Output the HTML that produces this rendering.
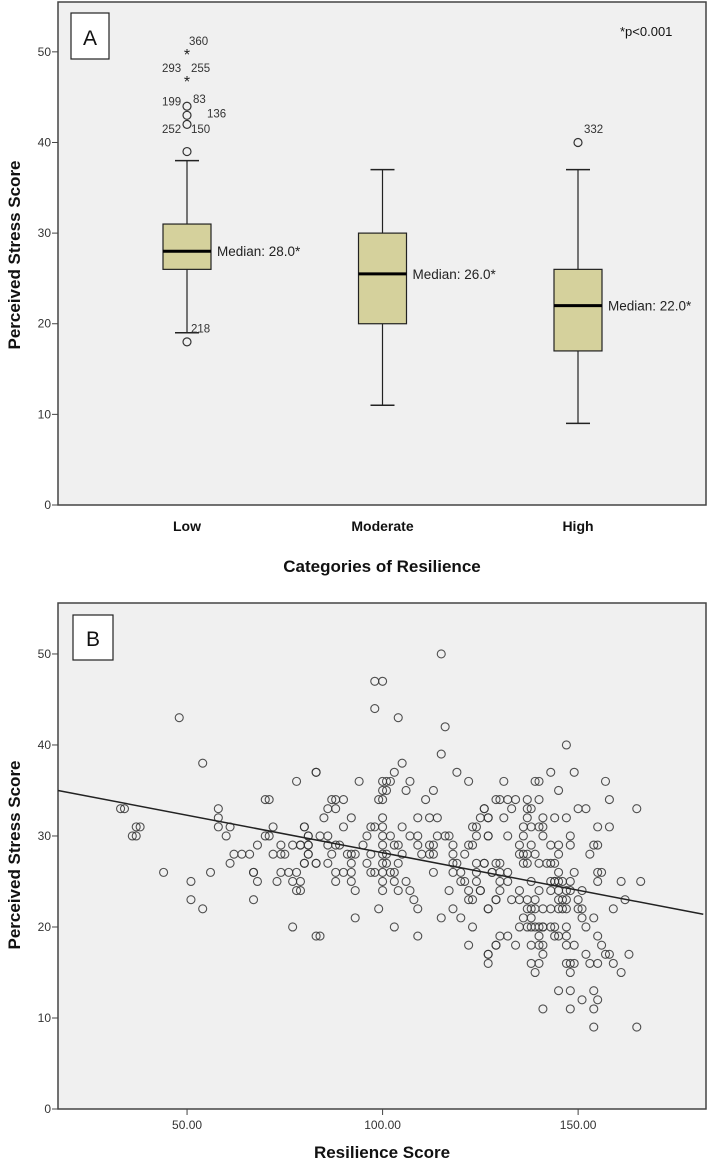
<!DOCTYPE html>
<html><head><meta charset="utf-8">
<style>
html,body{margin:0;padding:0;background:#fff;}
svg{display:block;font-family:"Liberation Sans",Arial,sans-serif;}
.tick{font-size:12px;fill:#333;}
.title{font-size:17px;font-weight:bold;fill:#111;}
</style></head>
<body>
<svg id="chart" width="708" height="1164" viewBox="0 0 708 1164" xmlns="http://www.w3.org/2000/svg">
<g id="panelA"></g>
<g id="panelB"></g>
</svg>
<script>
// ---- Panel A data ----
const categories = ["Low","Moderate","High"];
const whiskerLow = [19, 11, 9];
const q1 = [26, 20, 17];
const medians = [28, 25.5, 22];
const q3 = [31, 30, 26];
const whiskerHigh = [38, 37, 37];
const medianLabels = ["Median: 28.0*","Median: 26.0*","Median: 22.0*"];
const outlierCat = [0,0,0,0,0,0,0,2];
const outlierVal = [18,39,42,43,44,47,50,40];
const outlierType = ["o","o","o","o","o","*","*","o"];
const outlierLabelText = ["218","252","150","199","136","83","293","255","360","332"];
const outlierLabelVal = [19.5,41.5,41.5,44.5,43.2,44.8,48.2,48.2,51.2,41.5];
const outlierLabelCat = [0,0,0,0,0,0,0,0,0,2];
const outlierLabelDx = [4,-25,4,-25,20,6,-25,4,2,6];
const yTicksA = [0,10,20,30,40,50];

// ---- Panel B data ----
const resilience = [48,54,33,37,36,44,51,51,54,56,58,58,58,61,60,61,62,64,66,67,67,68,67,70,71,70,71,72,68,74,72,74,75,77,79,81,78,83,80,81,81,80,83,74,76,78,73,77,79,78,77,83,34,37,38,
98,100,98,104,116,115,83,105,103,119,122,94,100,101,102,107,106,100,101,113,99,100,111,87,88,90,86,88,126,129,85,92,100,109,112,114,125,127,80,90,97,98,100,105,123,124,81,84,86,96,100,102,107,109,114,116,117,124,127,79,81,86,88,89,95,100,103,104,109,112,113,118,122,123,81,87,91,92,93,97,100,101,105,110,112,113,118,121,80,83,86,92,96,100,101,104,118,119,124,126,129,88,90,92,97,98,100,102,103,113,118,120,124,128,88,92,100,103,106,120,121,124,79,93,100,104,107,117,122,125,108,122,123,129,99,109,118,127,93,115,120,103,123,84,109,122,129,127,
143,149,131,139,140,157,145,130,132,134,137,140,158,126,133,137,138,150,152,165,127,131,137,141,144,147,136,138,140,141,155,158,127,132,136,141,148,135,138,143,145,148,154,155,135,136,137,139,145,153,126,130,136,137,140,142,143,144,128,130,132,145,149,155,156,130,132,138,143,144,144,145,146,148,155,161,166,125,130,135,140,143,145,147,148,151,129,133,135,137,139,145,146,147,150,162,127,137,138,139,141,143,145,146,147,150,151,159,136,138,151,154,135,137,138,139,140,141,141,143,144,147,152,130,132,140,144,145,147,155,129,134,138,140,141,147,149,156,127,141,152,157,158,163,127,138,140,147,148,149,153,155,159,139,148,161,145,148,154,151,155,141,148,154,154,165,115,147];
const stress = [43,38,33,31,30,26,25,23,22,26,33,32,31,31,30,27,28,28,28,26,26,25,23,34,34,30,30,31,29,29,28,28,28,29,29,29,36,37,31,30,28,27,27,26,26,26,25,25,25,24,20,19,33,30,31,
47,47,44,43,42,39,37,38,37,37,36,36,36,36,36,36,35,35,35,35,34,34,34,34,34,34,33,33,33,34,32,32,32,32,32,32,32,32,31,31,31,31,31,31,31,31,30,30,30,30,30,30,30,30,30,30,30,30,30,29,29,29,29,29,29,29,29,29,29,29,29,29,29,29,28,28,28,28,28,28,28,28,28,28,28,28,28,28,27,27,27,27,27,27,27,27,27,27,27,27,27,26,26,26,26,26,26,26,26,26,26,26,26,26,25,25,25,25,25,25,25,25,24,24,24,24,24,24,24,24,23,23,23,23,22,22,22,22,21,21,21,20,20,19,19,18,18,17,
37,37,36,36,36,36,35,34,34,34,34,34,34,33,33,33,33,33,33,33,32,32,32,32,32,32,31,31,31,31,31,31,30,30,30,30,30,29,29,29,29,29,29,29,28,28,28,28,28,28,27,27,27,27,27,27,27,27,26,26,26,26,26,26,26,25,25,25,25,25,25,25,25,25,25,25,25,24,24,24,24,24,24,24,24,24,23,23,23,23,23,23,23,23,23,23,22,22,22,22,22,22,22,22,22,22,22,22,21,21,21,21,20,20,20,20,20,20,20,20,20,20,20,19,19,19,19,19,19,19,18,18,18,18,18,18,18,18,17,17,17,17,17,17,16,16,16,16,16,16,16,16,16,15,15,15,13,13,13,12,12,11,11,11,9,9,50,40];
const regX = [17, 182];
const regY = [35.0, 21.4];
const xTicksB = [50,100,150];
const xTickLabelsB = ["50.00","100.00","150.00"];
const yTicksB = [0,10,20,30,40,50];

const NS="http://www.w3.org/2000/svg";
function mk(tag, attrs, parent){const e=document.createElementNS(NS,tag);for(const k in attrs)e.setAttribute(k,attrs[k]);parent.appendChild(e);return e;}

// ===== Panel A =====
const A={left:58,right:706,top:2,bottom:505,ymax:55.5};
const gA=document.getElementById('panelA');
const yA=v=>A.bottom-(v/A.ymax)*(A.bottom-A.top);
const xA=i=>187+i*195.5;
let r=mk('rect',{x:A.left,y:A.top,width:A.right-A.left,height:A.bottom-A.top,fill:'#f0f0f0',stroke:'#444','stroke-width':1.5},gA);


yTicksA.forEach(t=>{
  let l=mk('line',{x1:A.left-6,x2:A.left,y1:yA(t),y2:yA(t),stroke:'#444'},gA);
  
  
  let tx=mk('text',{x:A.left-7,y:yA(t)+4,'text-anchor':'end',class:'tick'},gA);tx.textContent=t;
  
  
});
categories.forEach((c,i)=>{
  const cx=xA(i);
  let g=mk('g',{},gA);
  
  
  mk('line',{x1:cx,x2:cx,y1:yA(whiskerHigh[i]),y2:yA(q3[i]),stroke:'#222','stroke-width':1.2},g);
  mk('line',{x1:cx,x2:cx,y1:yA(q1[i]),y2:yA(whiskerLow[i]),stroke:'#222','stroke-width':1.2},g);
  mk('line',{x1:cx-12,x2:cx+12,y1:yA(whiskerHigh[i]),y2:yA(whiskerHigh[i]),stroke:'#222','stroke-width':1.5},g);
  mk('line',{x1:cx-12,x2:cx+12,y1:yA(whiskerLow[i]),y2:yA(whiskerLow[i]),stroke:'#222','stroke-width':1.5},g);
  mk('rect',{x:cx-24,y:yA(q3[i]),width:48,height:yA(q1[i])-yA(q3[i]),fill:'#d5d19c',stroke:'#222','stroke-width':1.2},g);
  mk('line',{x1:cx-24,x2:cx+24,y1:yA(medians[i]),y2:yA(medians[i]),stroke:'#000','stroke-width':3},g);
  let ml=mk('text',{x:cx+30,y:yA(medians[i])+5,'font-size':'13.5px',fill:'#222'},gA);ml.textContent=medianLabels[i];
  
  
  let cl=mk('text',{x:cx,y:531,'text-anchor':'middle','font-size':'14px','font-weight':'bold',fill:'#111'},gA);cl.textContent=c;
  
  
});
outlierVal.forEach((v,i)=>{
  const cx=xA(outlierCat[i]);
  if(outlierType[i]==='o'){
    let o=mk('circle',{cx:cx,cy:yA(v),r:4,fill:'none',stroke:'#333','stroke-width':1.2},gA);
    
    
  } else {
    let s=mk('text',{x:cx,y:yA(v)+8,'text-anchor':'middle','font-size':'16px',fill:'#222'},gA);s.textContent='*';
    
    
  }
});
outlierLabelText.forEach((t,i)=>{
  let l=mk('text',{x:xA(outlierLabelCat[i])+outlierLabelDx[i],y:yA(outlierLabelVal[i])+4,'font-size':'11.5px',fill:'#333'},gA);l.textContent=t;
  
  
});
let la=mk('rect',{x:71,y:13,width:38,height:46,fill:'#fff',stroke:'#222','stroke-width':1.2},gA);


let lat=mk('text',{x:90,y:45,'text-anchor':'middle','font-size':'21px',fill:'#111'},gA);lat.textContent='A';


let pv=mk('text',{x:620,y:36,'font-size':'13px',fill:'#111'},gA);pv.textContent='*p<0.001';


let yta=mk('text',{x:0,y:0,class:'title','text-anchor':'middle',transform:'translate(20,255) rotate(-90)'},gA);yta.textContent='Perceived Stress Score';


let xta=mk('text',{x:382,y:572,class:'title','text-anchor':'middle'},gA);xta.textContent='Categories of Resilience';



// ===== Panel B =====
const B={left:58,right:706,top:603,bottom:1109,xmin:17,xmax:182.7,ymax:55.6};
const gB=document.getElementById('panelB');
const xB=v=>B.left+(v-B.xmin)/(B.xmax-B.xmin)*(B.right-B.left);
const yB=v=>B.bottom-(v/B.ymax)*(B.bottom-B.top);
let rb=mk('rect',{x:B.left,y:B.top,width:B.right-B.left,height:B.bottom-B.top,fill:'#f0f0f0',stroke:'#444','stroke-width':1.5},gB);


yTicksB.forEach(t=>{
  let l=mk('line',{x1:B.left-6,x2:B.left,y1:yB(t),y2:yB(t),stroke:'#444'},gB);
  
  
  let tx=mk('text',{x:B.left-7,y:yB(t)+4,'text-anchor':'end',class:'tick'},gB);tx.textContent=t;
  
  
});
xTicksB.forEach((t,i)=>{
  let l=mk('line',{x1:xB(t),x2:xB(t),y1:B.bottom,y2:B.bottom+6,stroke:'#444'},gB);
  
  
  let tx=mk('text',{x:xB(t),y:B.bottom+20,'text-anchor':'middle',class:'tick'},gB);tx.textContent=xTickLabelsB[i];
  
  
});
resilience.forEach((v,i)=>{
  let c=mk('circle',{cx:xB(v),cy:yB(stress[i]),r:4,fill:'none',stroke:'#333','stroke-width':1.1,'stroke-opacity':0.85},gB);
  
  
});
let rl=mk('line',{x1:xB(regX[0]),y1:yB(regY[0]),x2:xB(regX[1]),y2:yB(regY[1]),stroke:'#222','stroke-width':1.5},gB);


let lb=mk('rect',{x:73,y:615,width:40,height:45,fill:'#fff',stroke:'#222','stroke-width':1.2},gB);


let lbt=mk('text',{x:93,y:646,'text-anchor':'middle','font-size':'21px',fill:'#111'},gB);lbt.textContent='B';


let ytb=mk('text',{x:0,y:0,class:'title','text-anchor':'middle',transform:'translate(20,855) rotate(-90)'},gB);ytb.textContent='Perceived Stress Score';


let xtb=mk('text',{x:382,y:1158,class:'title','text-anchor':'middle'},gB);xtb.textContent='Resilience Score';


</script>
</body></html>
